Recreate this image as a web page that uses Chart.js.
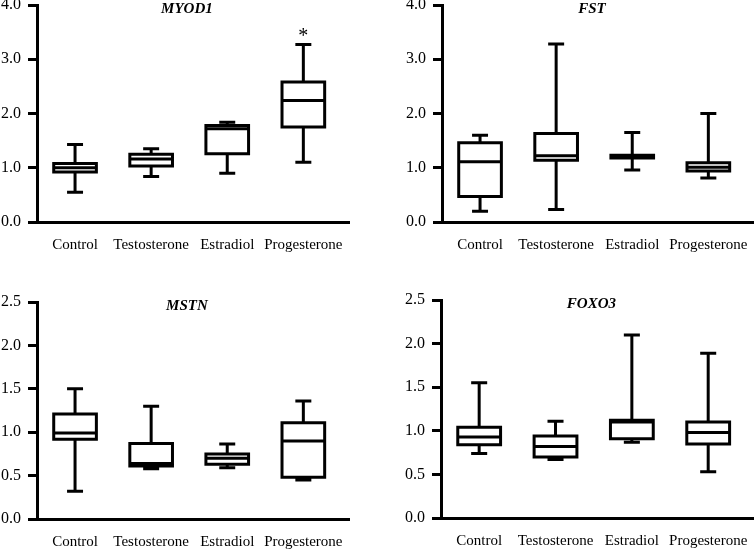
<!DOCTYPE html>
<html lang="en">
<head>
<meta charset="UTF-8">
<title>Gene expression box plots</title>
<script src="https://cdn.jsdelivr.net/npm/chart.js"></script>
<style>
  body { margin: 0; background: #fff; }
  #wrap { position: relative; width: 754px; height: 550px; }
  canvas { position: absolute; }
</style>
</head>
<body>
<div id="wrap">
  <canvas id="c-myod1" width="377" height="275" style="left:0;top:0"></canvas>
  <canvas id="c-fst" width="377" height="275" style="left:377px;top:0"></canvas>
  <canvas id="c-mstn" width="377" height="275" style="left:0;top:275px"></canvas>
  <canvas id="c-foxo3" width="377" height="275" style="left:377px;top:275px"></canvas>
</div>
<script>
const categories = ['Control', 'Testosterone', 'Estradiol', 'Progesterone'];

// each row: [min, q1, median, q3, max]
const myod1 = [
  [0.55, 0.92, 1.00, 1.08, 1.43],
  [0.84, 1.03, 1.16, 1.25, 1.35],
  [0.90, 1.26, 1.72, 1.78, 1.84],
  [1.10, 1.75, 2.24, 2.58, 3.27]
];
const fst = [
  [0.20, 0.47, 1.11, 1.46, 1.60],
  [0.23, 1.14, 1.22, 1.63, 3.28],
  [0.96, 1.18, 1.20, 1.23, 1.65],
  [0.81, 0.94, 1.01, 1.09, 2.00]
];
const mstn = [
  [0.32, 0.92, 0.99, 1.21, 1.50],
  [0.58, 0.61, 0.64, 0.87, 1.30],
  [0.59, 0.63, 0.70, 0.75, 0.865],
  [0.45, 0.48, 0.90, 1.11, 1.36]
];
const foxo3 = [
  [0.74, 0.84, 0.93, 1.04, 1.55],
  [0.67, 0.70, 0.82, 0.94, 1.11],
  [0.87, 0.91, 1.10, 1.12, 2.10],
  [0.53, 0.85, 0.98, 1.10, 1.89]
];

const topTicks = [0, 1, 2, 3, 4];
const bottomTicks = [0, 0.5, 1, 1.5, 2, 2.5];

const serif = "'Liberation Serif', 'DejaVu Serif', serif";

// box outline, whiskers, caps, medians and the significance star
const boxWhisker = {
  id: 'boxWhisker',
  afterDatasetsDraw(chart) {
    const { ctx, scales: { x, y } } = chart;
    const ds = chart.data.datasets[0];
    const meta = chart.getDatasetMeta(0);
    ctx.save();
    ctx.strokeStyle = '#000';
    ctx.lineWidth = 3;
    ds.stats.forEach((s, i) => {
      const cx = x.getPixelForValue(i);
      const cap = x.getPixelForValue(i + 0.105) - cx;
      const half = meta.data[i].width / 2 - 1.5;
      const [mn, q1, med, q3, mx] = s.map(v => y.getPixelForValue(v));
      ctx.beginPath();
      ctx.moveTo(cx, q3); ctx.lineTo(cx, mx);
      ctx.moveTo(cx - cap, mx); ctx.lineTo(cx + cap, mx);
      ctx.moveTo(cx, q1); ctx.lineTo(cx, mn);
      ctx.moveTo(cx - cap, mn); ctx.lineTo(cx + cap, mn);
      ctx.moveTo(cx - half, med); ctx.lineTo(cx + half, med);
      ctx.rect(cx - half, q3, half * 2, q1 - q3);
      ctx.stroke();
    });
    (ds.stars || []).forEach((st, i) => {
      if (st === null) return;
      ctx.fillStyle = '#000';
      ctx.font = '20px ' + serif;
      ctx.textAlign = 'center';
      ctx.textBaseline = 'middle';
      ctx.fillText('*', x.getPixelForValue(i), y.getPixelForValue(st) + 5);
    });
    ctx.restore();
  }
};

const innerTitle = {
  id: 'innerTitle',
  afterDraw(chart) {
    const { ctx, chartArea, scales: { x } } = chart;
    ctx.save();
    ctx.fillStyle = '#000';
    ctx.font = 'italic bold 15px ' + serif;
    ctx.textAlign = 'center';
    ctx.textBaseline = 'middle';
    ctx.fillText(chart.data.datasets[0].label, x.getPixelForValue(1.47), chartArea.top + 4);
    ctx.restore();
  }
};

function makeChart(id, gene, stats, ticks, box, stars) {
  const canvas = document.getElementById(id);
  const H = canvas.height, W = canvas.width;
  new Chart(canvas, {
    type: 'bar',
    data: {
      datasets: [{
        label: gene,
        stats: stats,
        stars: stars,
        data: stats.map((s, i) => ({ x: i, y: [s[1], s[3]] })),
        backgroundColor: '#fff',
        borderWidth: 0,
        categoryPercentage: 1,
        barPercentage: 0.6
      }]
    },
    options: {
      responsive: false,
      animation: false,
      layout: { padding: { left: 0, top: box.top, right: W - box.right, bottom: 0 } },
      plugins: { legend: { display: false }, tooltip: { enabled: false } },
      scales: {
        x: {
          type: 'linear',
          offset: false,
          min: -0.5,
          max: 3.6,
          grid: { display: false, drawTicks: false, offset: false },
          border: { display: true, color: '#000', width: 3 },
          afterBuildTicks: s => { s.ticks = categories.map((c, i) => ({ value: i })); },
          afterFit: s => { s.height = H - box.bottom; s.paddingLeft = 0; s.paddingRight = 0; },
          ticks: {
            autoSkip: false,
            maxRotation: 0,
            padding: 14,
            color: '#000',
            font: { family: serif, size: 15 },
            callback: v => categories[v]
          }
        },
        y: {
          min: ticks[0],
          max: ticks[ticks.length - 1],
          afterBuildTicks: s => { s.ticks = ticks.map(v => ({ value: v })); },
          afterFit: s => { s.width = box.left; s.paddingTop = 0; s.paddingBottom = 0; },
          grid: {
            display: true,
            drawOnChartArea: false,
            drawTicks: true,
            tickLength: 9,
            tickWidth: 3,
            tickColor: '#000',
            lineWidth: 3,
            color: '#000'
          },
          border: { display: true, color: '#000', width: 3 },
          ticks: {
            padding: 7,
            color: '#000',
            font: { family: serif, size: 16 },
            callback: v => Number(v).toFixed(1)
          }
        }
      }
    },
    plugins: [boxWhisker, innerTitle]
  });
}

makeChart('c-myod1', 'MYOD1', myod1, topTicks, { left: 37, right: 349, top: 5, bottom: 222 }, [null, null, null, 3.5]);
makeChart('c-fst', 'FST', fst, topTicks, { left: 65, right: 377, top: 5, bottom: 222 });
makeChart('c-mstn', 'MSTN', mstn, bottomTicks, { left: 37, right: 349, top: 27, bottom: 244 });
makeChart('c-foxo3', 'FOXO3', foxo3, bottomTicks, { left: 64, right: 377, top: 25, bottom: 243 });
</script>
</body>
</html>
